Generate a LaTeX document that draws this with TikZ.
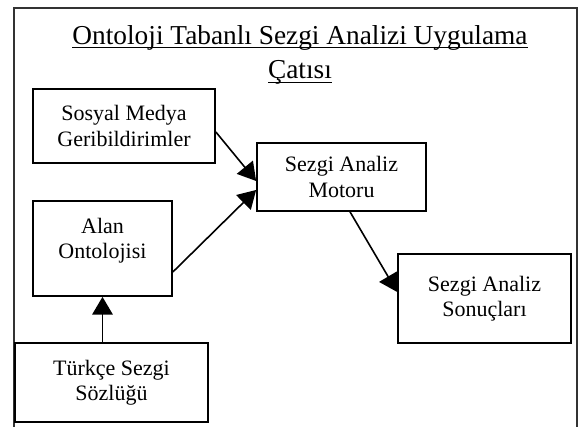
\documentclass[tikz,border=0pt]{standalone}
\usepackage{fontspec}
\setmainfont{Liberation Serif}
\usetikzlibrary{arrows.meta}
\newcommand{\titleuline}[1]{\setbox0=\hbox{#1}\makebox[0pt][l]{\rule[-3pt]{\wd0}{0.9pt}}\box0}

\begin{document}
\begin{tikzpicture}[x=0.75pt, y=-0.75pt,
  box/.style={draw, line width=1.3pt, align=center, inner sep=0pt, font=\fontsize{16.5}{19}\selectfont},
  arr/.style={line width=1.2pt, -{Triangle[scale=2.2]}}]
  \useasboundingbox (0,0) rectangle (581,427);

  % Frame
  \draw[line width=1.2pt, black!80] (14,427) -- (14,8) -- (577,8) -- (577,427);

  % Title
  \node[align=center, font=\fontsize{20.5}{26}\selectfont] (title) at (300,55) {
    \titleuline{Ontoloji Tabanlı Sezgi Analizi Uygulama}\\\titleuline{Çatısı}
  };

  % Inputs
  \node[box, minimum width=136.5pt, minimum height=55.5pt] (sosyal) at (124,126) {Sosyal Medya\\Geribildirimler};
  \node[box, minimum width=104.25pt, minimum height=71.25pt, text depth=15pt] (alan) at (102.5,248.5) {Alan\\Ontolojisi};
  \node[box, minimum width=144.75pt, minimum height=59.25pt] (turkce) at (111.5,382.5) {Türkçe Sezgi\\Sözlüğü};

  % Engine and results
  \node[box, minimum width=126.75pt, minimum height=51pt] (motor) at (341.5,177) {Sezgi Analiz\\Motoru};
  \node[box, minimum width=129.75pt, minimum height=66.75pt] (sonuc) at (484.5,298.5) {Sezgi Analiz\\Sonuçları};

  % Connectors
  \draw[arr] ([yshift=-4.5pt]sosyal.east) -- ([yshift=-3pt]motor.west);
  \draw[arr] ([yshift=-17.6pt]alan.east) -- ([yshift=-9.75pt]motor.west);
  \draw[arr] ([xshift=6.4pt]motor.south) -- ([yshift=4.9pt]sonuc.west);
  \draw[arr] (alan.south |- turkce.north) -- (alan.south);
\end{tikzpicture}
\end{document}
